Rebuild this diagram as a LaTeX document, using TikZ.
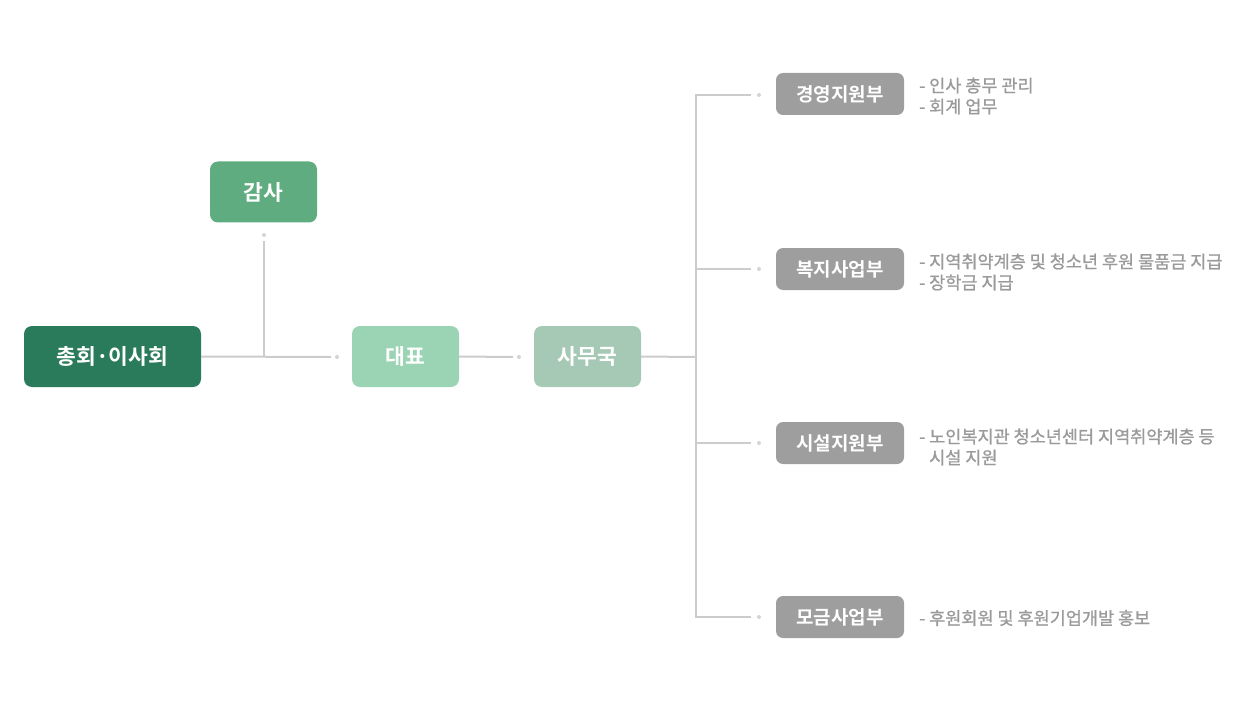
\documentclass[tikz,border=0pt]{standalone}
\usepackage{fontspec}
\newfontfamily\kr{Noto Sans CJK KR}[BoldFont=* Bold]
\newfontfamily\krm{Noto Sans CJK KR}[FakeBold=1]
\definecolor{cdark}{HTML}{2A7A5C}
\definecolor{caudit}{HTML}{5FAC80}
\definecolor{crep}{HTML}{9AD4B4}
\definecolor{coffice}{HTML}{A6C9B6}
\definecolor{cdept}{HTML}{9E9E9E}
\definecolor{cline}{HTML}{CCCCCC}
\definecolor{cdot}{HTML}{D4D4D4}
\definecolor{cdesc}{HTML}{9A9A9A}
\tikzset{
  box/.style={rectangle, rounded corners=8pt, inner sep=0pt, text=white,
    font=\kr\bfseries\fontsize{21.5}{26}\selectfont},
  mainbox/.style={box, minimum width=107pt, minimum height=61pt},
  deptbox/.style={box, fill=cdept, minimum width=128pt, minimum height=42pt, rounded corners=7pt,
    font=\kr\bfseries\fontsize{19}{23}\selectfont},
  desc/.style={anchor=west, inner sep=0pt, text=cdesc, align=left,
    font=\krm\fontsize{17.5}{21}\selectfont},
  conn/.style={draw=cline, line width=2pt},
  dotc/.style={circle, fill=cdot, inner sep=0pt, minimum size=4pt},
}
\begin{document}
\begin{tikzpicture}[x=1pt,y=-1pt]
\useasboundingbox (0,0) rectangle (1250,714);
% main nodes
\node[mainbox, fill=cdark, minimum width=177pt] (gen) at (112.5,356.5) {총회·이사회};
\node[mainbox, fill=caudit] (aud) at (263.5,192) {감사};
\node[mainbox, fill=crep] (rep) at (405.5,356.5) {대표};
\node[mainbox, fill=coffice] (off) at (587.5,356.5) {사무국};
% dots
\node[dotc] (d1) at (337,357) {};
\node[dotc] (d2) at (264,235) {};
\node[dotc] (d3) at (519,357) {};
\coordinate (j1) at (264,357);
\coordinate (e1) at (331,357);
\coordinate (e2) at (264,241);
\coordinate (e3) at (513,357);
\draw[conn] (gen.east) -- (e1);
\draw[conn] (j1) -- (e2);
\draw[conn] (rep.east) -- (e3);
% departments
\node[deptbox] (dA) at (840,94) {경영지원부};
\node[deptbox] (dB) at (840,269) {복지사업부};
\node[deptbox] (dC) at (840,443) {시설지원부};
\node[deptbox] (dD) at (840,617) {모금사업부};
\coordinate (t0) at (696,357);
\coordinate (tA) at (696,95);
\coordinate (tB) at (696,269);
\coordinate (tC) at (696,443);
\coordinate (tD) at (696,617);
\coordinate (bA) at (751,95);
\coordinate (bB) at (751,269);
\coordinate (bC) at (751,443);
\coordinate (bD) at (751,617);
\node[dotc] (pA) at (759,95) {};
\node[dotc] (pB) at (759,269) {};
\node[dotc] (pC) at (759,443) {};
\node[dotc] (pD) at (759,617) {};
\draw[conn] (off.east) -- (t0);
\draw[conn] (bA) -- (tA) -- (tD) -- (bD);
\draw[conn] (tB) -- (bB);
\draw[conn] (tC) -- (bC);
% descriptions
\node[desc] (xA) at (919,96) {- 인사 총무 관리\\- 회계 업무};
\node[desc] (xB) at (919,272) {- 지역취약계층 및 청소년 후원 물품금 지급\\- 장학금 지급};
\node[desc] (xC) at (919,447) {- 노인복지관 청소년센터 지역취약계층 등\\\phantom{- }시설 지원};
\node[desc] (xD) at (919,618) {- 후원회원 및 후원기업개발 홍보};
\end{tikzpicture}
\end{document}
